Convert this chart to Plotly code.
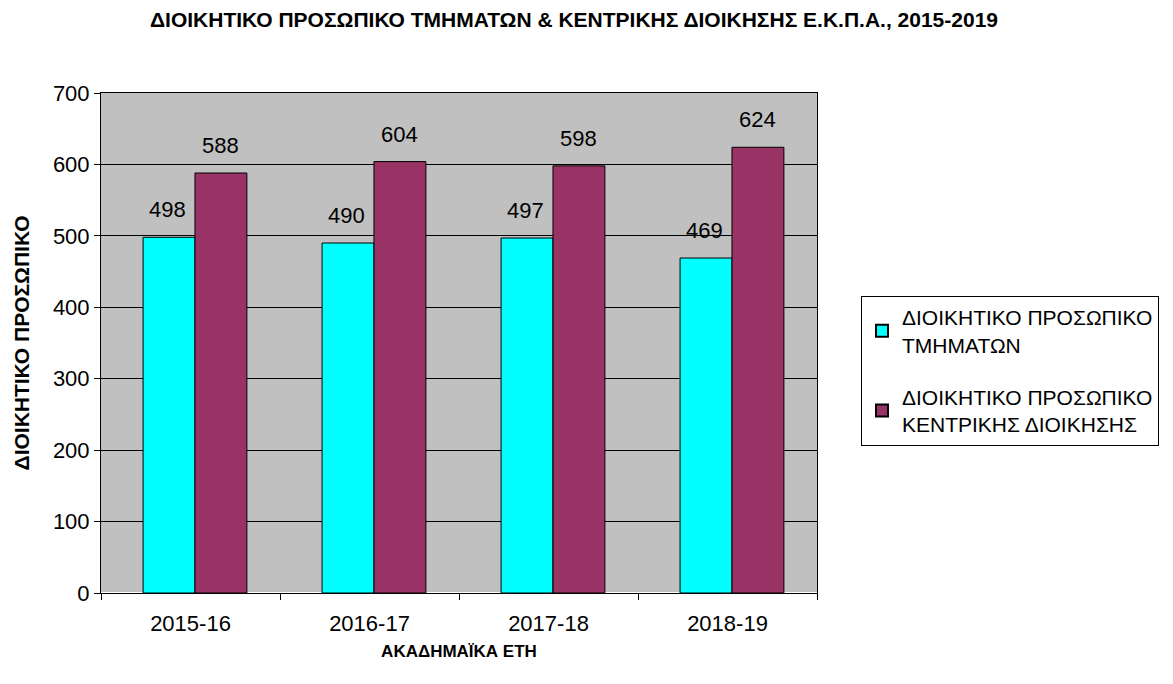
import plotly.graph_objects as go

categories = ["2015-16", "2016-17", "2017-18", "2018-19"]
tmimata = [498, 490, 497, 469]
kentriki = [588, 604, 598, 624]
series_names = ["ΔΙΟΙΚΗΤΙΚΟ ΠΡΟΣΩΠΙΚΟ<br>ΤΜΗΜΑΤΩΝ", "ΔΙΟΙΚΗΤΙΚΟ ΠΡΟΣΩΠΙΚΟ<br>ΚΕΝΤΡΙΚΗΣ ΔΙΟΙΚΗΣΗΣ"]
colors = ["#00FFFF", "#993366"]

FONT = "Liberation Sans, Arial, sans-serif"
W, H = 1173, 684
OFF = 8  # page body margin
# plot area in screen pixels
PL, PR, PT, PB = 101, 817, 93, 593
ml, mr, mt, mb = PL - OFF, W - (PR - OFF), PT - OFF, H - (PB - OFF)

BAR_W = 0.29
offsets = [-0.265, 0.025]
label_shift = [-23, 30]

fig = go.Figure()
for i, (name, vals, col) in enumerate(zip(series_names, [tmimata, kentriki], colors)):
    fig.add_trace(go.Bar(
        x=categories, y=vals, name=name, legendgroup=f"g{i}",
        width=BAR_W, offset=offsets[i],
        marker=dict(color=col, line=dict(color="black", width=1)),
    ))

annotations = []
for vals, shift in zip([tmimata, kentriki], label_shift):
    for c, v in zip(categories, vals):
        annotations.append(dict(
            x=c, y=v, text=str(v), showarrow=False, xshift=shift,
            yanchor="bottom", yshift=13,
            font=dict(family=FONT, size=22, color="black"),
        ))

fig.update_layout(
    width=W, height=H,
    margin=dict(l=ml, r=mr, t=mt, b=mb),
    paper_bgcolor="white", plot_bgcolor="#C0C0C0",
    barmode="overlay",
    font=dict(family=FONT, size=20, color="black"),
    title=dict(text="<b>ΔΙΟΙΚΗΤΙΚΟ ΠΡΟΣΩΠΙΚΟ ΤΜΗΜΑΤΩΝ & ΚΕΝΤΡΙΚΗΣ ΔΙΟΙΚΗΣΗΣ Ε.Κ.Π.Α., 2015-2019</b>",
               x=(574 - OFF) / W, xanchor="center", y=1 - (20 - OFF) / H, yanchor="middle",
               font=dict(family=FONT, size=21, color="black")),
    showlegend=True,
    legend=dict(x=(861 - PL) / (PR - PL), xanchor="left", y=(PB - 371) / (PB - PT), yanchor="middle",
                bordercolor="black", borderwidth=1, bgcolor="white",
                font=dict(family=FONT, size=21, color="black"),
                itemsizing="constant", tracegroupgap=22),
    annotations=annotations,
)
fig.update_xaxes(
    showline=True, linecolor="black", linewidth=1, mirror=True,
    ticks="outside", tickson="boundaries", ticklen=6, tickcolor="black",
    tickfont=dict(family=FONT, size=22), ticklabelstandoff=11,
    automargin=False,
    title=dict(text="<b>ΑΚΑΔΗΜΑΪΚΑ ΕΤΗ</b>", font=dict(family=FONT, size=17), standoff=9),
)
fig.update_yaxes(
    range=[0, 700], dtick=100,
    showline=True, linecolor="black", linewidth=1, mirror=True,
    showgrid=True, gridcolor="black", gridwidth=1,
    ticks="outside", ticklen=6, tickcolor="black",
    tickfont=dict(family=FONT, size=22),
    automargin=False,
    title=dict(text="<b>ΔΙΟΙΚΗΤΙΚΟ ΠΡΟΣΩΠΙΚΟ</b>", font=dict(family=FONT, size=21), standoff=17),
)

fig.write_html("out.html")
